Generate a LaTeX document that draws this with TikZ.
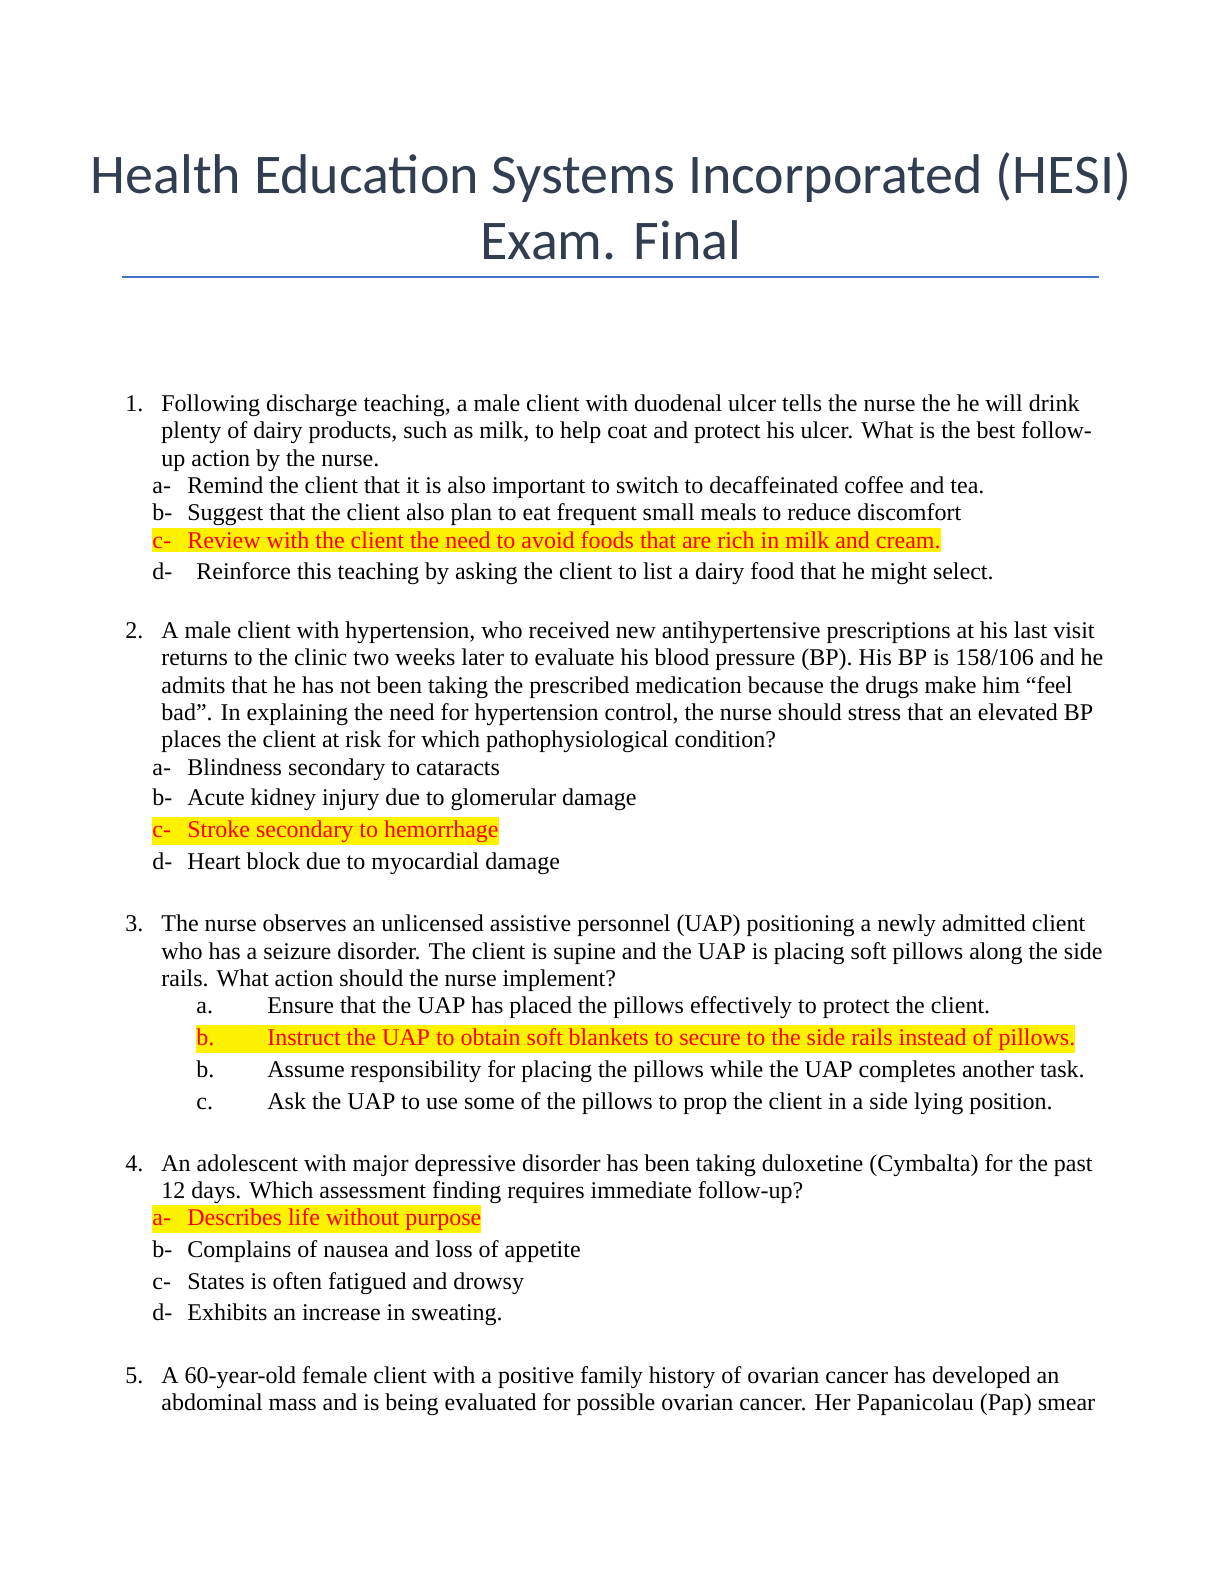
\documentclass[tikz,border=0pt]{standalone}
\usepackage{fontspec}
\setmainfont{Liberation Serif}
\newfontfamily\titlefont{Carlito}
\definecolor{titlegray}{HTML}{323E4F}
\definecolor{rulegblue}{HTML}{4472C4}
\begin{document}
\begin{tikzpicture}[x=0.5pt,y=-0.5pt,
    line/.style = {anchor=base west, inner sep=0pt, font=\fontsize{12}{14}\selectfont},
    hl/.style = {line, fill=yellow, text=red, inner ysep=1.6pt},
    ttl/.style = {inner sep=0pt, font=\titlefont\fontsize{28}{34}\selectfont, text=titlegray}]
\useasboundingbox (0,0) rectangle (1224,1584);

% title
\node[ttl] (t1) at (611,178) {Health Education Systems Incorporated (HESI)};
\node[ttl] (t2) at (611,240) {Exam. Final};
\draw[rulegblue, line width=0.75pt] (122,277) -- (1099,277);

% question 1
\node[line] (q1n) at (125,411) {1.};
\node[line] (q1a) at (161,411) {Following discharge teaching, a male client with duodenal ulcer tells the nurse the he will drink};
\node[line] (q1b) at (161,438) {plenty of dairy products, such as milk, to help coat and protect his ulcer. What is the best follow-};
\node[line] (q1c) at (161,466) {up action by the nurse.};
\node[line] (o1a) at (152,493) {\makebox[17.5pt][l]{a-}Remind the client that it is also important to switch to decaffeinated coffee and tea.};
\node[line] (o1b) at (152,520) {\makebox[17.5pt][l]{b-}Suggest that the client also plan to eat frequent small meals to reduce discomfort};
\node[hl] (o1c) at (152,548) {\makebox[17.5pt][l]{c-}Review with the client the need to avoid foods that are rich in milk and cream.};
\node[line] (o1d) at (152,579) {\makebox[22pt][l]{d-}Reinforce this teaching by asking the client to list a dairy food that he might select.};

% question 2
\node[line] (q2n) at (125,638) {2.};
\node[line] (q2a) at (161,638) {A male client with hypertension, who received new antihypertensive prescriptions at his last visit};
\node[line] (q2b) at (161,665) {returns to the clinic two weeks later to evaluate his blood pressure (BP). His BP is 158/106 and he};
\node[line] (q2c) at (161,693) {admits that he has not been taking the prescribed medication because the drugs make him “feel};
\node[line] (q2d) at (161,720) {bad”. In explaining the need for hypertension control, the nurse should stress that an elevated BP};
\node[line] (q2e) at (161,747) {places the client at risk for which pathophysiological condition?};
\node[line] (o2a) at (152,775) {\makebox[17.5pt][l]{a-}Blindness secondary to cataracts};
\node[line] (o2b) at (152,805) {\makebox[17.5pt][l]{b-}Acute kidney injury due to glomerular damage};
\node[hl] (o2c) at (152,837) {\makebox[17.5pt][l]{c-}Stroke secondary to hemorrhage};
\node[line] (o2d) at (152,869) {\makebox[17.5pt][l]{d-}Heart block due to myocardial damage};

% question 3
\node[line] (q3n) at (125,931) {3.};
\node[line] (q3a) at (161,931) {The nurse observes an unlicensed assistive personnel (UAP) positioning a newly admitted client};
\node[line] (q3b) at (161,959) {who has a seizure disorder. The client is supine and the UAP is placing soft pillows along the side};
\node[line] (q3c) at (161,986) {rails. What action should the nurse implement?};
\node[line] (o3a) at (196,1013) {\makebox[35.5pt][l]{a.}Ensure that the UAP has placed the pillows effectively to protect the client.};
\node[hl] (o3b) at (196,1045) {\makebox[35.5pt][l]{b.}Instruct the UAP to obtain soft blankets to secure to the side rails instead of pillows.};
\node[line] (o3c) at (196,1077) {\makebox[35.5pt][l]{b.}Assume responsibility for placing the pillows while the UAP completes another task.};
\node[line] (o3d) at (196,1109) {\makebox[35.5pt][l]{c.}Ask the UAP to use some of the pillows to prop the client in a side lying position.};

% question 4
\node[line] (q4n) at (125,1171) {4.};
\node[line] (q4a) at (161,1171) {An adolescent with major depressive disorder has been taking duloxetine (Cymbalta) for the past};
\node[line] (q4b) at (161,1198) {12 days. Which assessment finding requires immediate follow-up?};
\node[hl] (o4a) at (152,1225) {\makebox[17.5pt][l]{a-}Describes life without purpose};
\node[line] (o4b) at (152,1257) {\makebox[17.5pt][l]{b-}Complains of nausea and loss of appetite};
\node[line] (o4c) at (152,1289) {\makebox[17.5pt][l]{c-}States is often fatigued and drowsy};
\node[line] (o4d) at (152,1320) {\makebox[17.5pt][l]{d-}Exhibits an increase in sweating.};

% question 5
\node[line] (q5n) at (125,1383) {5.};
\node[line] (q5a) at (161,1383) {A 60-year-old female client with a positive family history of ovarian cancer has developed an};
\node[line] (q5b) at (161,1410) {abdominal mass and is being evaluated for possible ovarian cancer. Her Papanicolau (Pap) smear};
\end{tikzpicture}
\end{document}
